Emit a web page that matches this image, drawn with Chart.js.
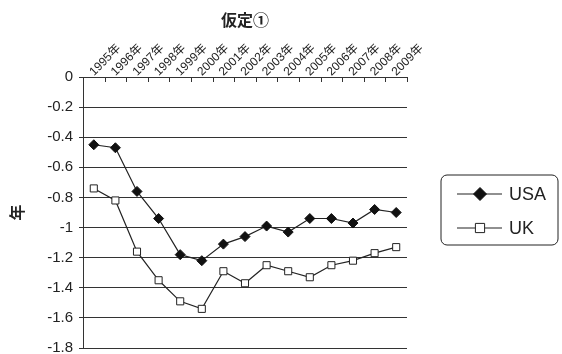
<!DOCTYPE html>
<html>
<head>
<meta charset="utf-8">
<script src="https://cdn.jsdelivr.net/npm/chart.js@4.4.1/dist/chart.umd.min.js"></script>
<style>
  html, body { margin: 0; padding: 0; background: #fff; }
  #wrap { position: relative; width: 562px; height: 354px; }
</style>
</head>
<body>
<div id="wrap"><canvas id="c"></canvas></div>
<script>
// Years along the top axis
const years = ['1995年','1996年','1997年','1998年','1999年','2000年','2001年','2002年',
               '2003年','2004年','2005年','2006年','2007年','2008年','2009年'];
// Series values (年)
const usa = [-0.45, -0.47, -0.76, -0.94, -1.18, -1.22, -1.11, -1.06,
             -0.99, -1.03, -0.94, -0.94, -0.97, -0.88, -0.90];
const uk  = [-0.74, -0.82, -1.16, -1.35, -1.49, -1.54, -1.29, -1.37,
             -1.25, -1.29, -1.33, -1.25, -1.22, -1.17, -1.13];
// Value axis ticks
const yTickValues = [-1.8, -1.6, -1.4, -1.2, -1, -0.8, -0.6, -0.4, -0.2, 0];
const yTickLabels = ['-1.8', '-1.6', '-1.4', '-1.2', '-1', '-0.8', '-0.6', '-0.4', '-0.2', '0'];

const SANS = "'Liberation Sans', Arial, 'Noto Sans CJK JP', sans-serif";
const INK = '#222';

// Short tick marks pointing into the plot at the category boundaries of the top axis
const innerTicks = {
  id: 'innerTicks',
  afterDatasetsDraw(chart) {
    const x = chart.scales.x, ctx = chart.ctx;
    const top = chart.chartArea.top;
    const n = chart.data.labels.length;
    const half = (x.getPixelForValue(1) - x.getPixelForValue(0)) / 2;
    ctx.save();
    ctx.strokeStyle = '#333';
    ctx.lineWidth = 1;
    ctx.beginPath();
    for (let i = 0; i <= n; i++) {
      const px = Math.round(x.getPixelForValue(i) - half) + 0.5;
      ctx.moveTo(px, top);
      ctx.lineTo(px, top + 5);
    }
    ctx.stroke();
    ctx.restore();
  }
};

// Boxed legend at the right of the plot
const boxLegend = {
  id: 'boxLegend',
  afterDraw(chart) {
    const ctx = chart.ctx;
    ctx.save();
    const x0 = 441, y0 = 175, w = 117, h = 70, r = 6;
    ctx.beginPath();
    ctx.moveTo(x0 + r, y0);
    ctx.arcTo(x0 + w, y0, x0 + w, y0 + h, r);
    ctx.arcTo(x0 + w, y0 + h, x0, y0 + h, r);
    ctx.arcTo(x0, y0 + h, x0, y0, r);
    ctx.arcTo(x0, y0, x0 + w, y0, r);
    ctx.closePath();
    ctx.strokeStyle = INK;
    ctx.lineWidth = 1;
    ctx.stroke();

    const rows = [
      { ds: chart.data.datasets[0], y: 194 },
      { ds: chart.data.datasets[1], y: 228 }
    ];
    rows.forEach(({ ds, y }) => {
      ctx.beginPath();
      ctx.moveTo(457, y);
      ctx.lineTo(502, y);
      ctx.strokeStyle = INK;
      ctx.lineWidth = 1.2;
      ctx.stroke();
      ctx.fillStyle = ds.pointBackgroundColor;
      ctx.strokeStyle = ds.pointBorderColor;
      ctx.lineWidth = 1;
      Chart.helpers.drawPoint(ctx, {
        pointStyle: ds.pointStyle, radius: ds.pointRadius + 1.5, rotation: 0, borderWidth: 1
      }, 480, y);
      ctx.fillStyle = INK;
      ctx.font = '18px ' + SANS;
      ctx.textBaseline = 'middle';
      ctx.textAlign = 'left';
      ctx.fillText(ds.label, 509, y + 1);
    });
    ctx.restore();
  }
};

new Chart(document.getElementById('c'), {
  type: 'line',
  data: {
    labels: years,
    datasets: [
      {
        label: 'USA', data: usa,
        borderColor: INK, borderWidth: 1.2,
        pointStyle: 'rectRot', pointRadius: 5,
        pointBackgroundColor: '#111', pointBorderColor: '#111', pointBorderWidth: 1
      },
      {
        label: 'UK', data: uk,
        borderColor: INK, borderWidth: 1.2,
        pointStyle: 'rect', pointRadius: 5,
        pointBackgroundColor: '#fff', pointBorderColor: INK, pointBorderWidth: 1
      }
    ]
  },
  plugins: [innerTicks, boxLegend],
  options: {
    responsive: true,
    maintainAspectRatio: false,
    animation: false,
    layout: { padding: { left: 0, right: 155, top: 0, bottom: 4 } },
    plugins: {
      legend: { display: false },
      tooltip: { enabled: false },
      title: {
        display: true,
        text: '仮定①',
        fullSize: false,
        color: INK,
        font: { size: 16, weight: 'bold', family: "'Noto Sans CJK JP', sans-serif" },
        padding: { top: 10, bottom: 0 }
      }
    },
    scales: {
      x: {
        type: 'category',
        position: 'top',
        offset: true,
        grid: { offset: true, drawOnChartArea: false, drawTicks: false },
        border: { display: true, color: '#333', width: 1 },
        ticks: {
          autoSkip: false, maxRotation: 45, minRotation: 45,
          padding: -2, labelOffset: 8, color: INK,
          font: { size: 12, family: SANS }
        },
        afterFit(s) { s.height = 47.8; }
      },
      y: {
        min: -1.8, max: 0,
        afterBuildTicks(s) { s.ticks = yTickValues.map(v => ({ value: v })); },
        grid: { color: '#333', lineWidth: 1, tickLength: 4 },
        border: { display: true, color: '#333', width: 1 },
        ticks: {
          padding: 6, color: INK,
          font: { size: 15, family: SANS },
          callback(value) {
            const i = yTickValues.findIndex(v => Math.abs(v - value) < 1e-6);
            return i >= 0 ? yTickLabels[i] : '';
          }
        },
        title: {
          display: true, text: '年', color: INK,
          font: { size: 16, weight: 'bold', family: "'Noto Sans CJK JP', sans-serif" },
          padding: { top: 7, bottom: 0 }
        },
        afterFit(s) { s.width = 83; s.paddingTop = 0; s.paddingBottom = 0; }
      }
    }
  }
});
</script>
</body>
</html>
